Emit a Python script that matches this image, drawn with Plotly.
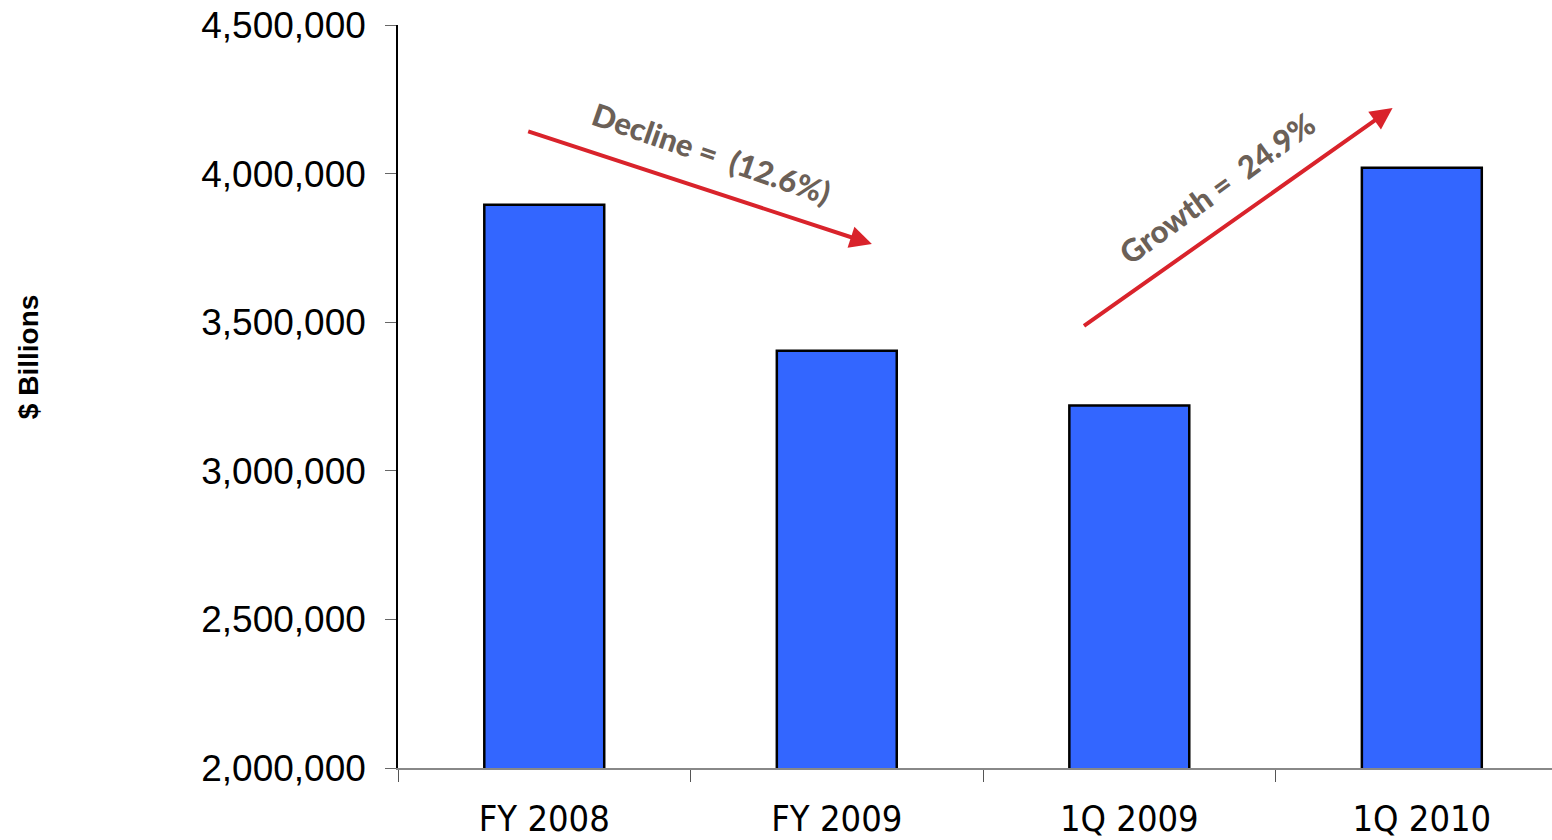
import plotly.graph_objects as go

# Period totals
periods = ["FY 2008", "FY 2009", "1Q 2009", "1Q 2010"]
totals = [3895000, 3404000, 3220000, 4020000]

y_ticks = [2000000, 2500000, 3000000, 3500000, 4000000, 4500000]

# Trend call-outs (axis coordinates: category index, value)
decline_tail = (-0.06, 4144000)
decline_head = (1.12, 3763000)
decline_label_pos = (0.57, 4070000)
growth_tail = (1.84, 3484000)
growth_head = (2.90, 4221000)
growth_label_pos = (2.30, 3950000)

bar_color = "#3366ff"
arrow_color = "#d9232b"
callout_color = "#6b6057"

fig = go.Figure()
fig.add_trace(go.Bar(
    x=periods,
    y=totals,
    width=0.41,
    marker=dict(color=bar_color, line=dict(color="#000000", width=2.5)),
    hoverinfo="x+y",
))

annotations = []
for tail, head in [(decline_tail, decline_head), (growth_tail, growth_head)]:
    annotations.append(dict(
        x=head[0], y=head[1], xref="x", yref="y",
        ax=tail[0], ay=tail[1], axref="x", ayref="y",
        text="", showarrow=True, arrowhead=2, arrowsize=1.1,
        arrowwidth=4, arrowcolor=arrow_color, standoff=0,
    ))

callout_font = dict(family="Lato, 'Open Sans', sans-serif", size=31,
                    color=callout_color, weight=900)
annotations.append(dict(
    x=decline_label_pos[0], y=decline_label_pos[1], xref="x", yref="y",
    text="Decline =\u00a0 (12.6%)", showarrow=False, textangle=19,
    font=callout_font,
))
annotations.append(dict(
    x=growth_label_pos[0], y=growth_label_pos[1], xref="x", yref="y",
    text="Growth =\u00a0 24.9%", showarrow=False, textangle=-36,
    font=callout_font,
))
annotations.append(dict(
    x=-0.3206, y=0.553, xref="paper", yref="paper",
    text="<b>$ Billions</b>", showarrow=False, textangle=-90,
    xanchor="center", yanchor="middle",
    font=dict(family="'Liberation Sans', Arial, sans-serif", size=28, color="#000000"),
))

fig.update_layout(
    width=1552, height=840,
    margin=dict(l=398, r=0, t=25, b=72, autoexpand=False),
    paper_bgcolor="#ffffff", plot_bgcolor="#ffffff",
    showlegend=False,
    annotations=annotations,
    xaxis=dict(
        type="category",
        range=[-0.5, 3.445],
        tickson="boundaries",
        ticks="outside", ticklen=12, tickwidth=1.2, tickcolor="#555555",
        showline=True, linecolor="#888888", linewidth=1.5,
        showgrid=False, zeroline=False,
        tickfont=dict(family="'Liberation Sans Narrow', 'DejaVu Sans Condensed', sans-serif",
                      size=36, color="#000000"),
        ticklabelstandoff=18,
    ),
    yaxis=dict(
        range=[2000000, 4500000],
        tickvals=y_ticks,
        tickformat=",",
        ticks="outside", ticklen=11, tickwidth=1.2, tickcolor="#666666",
        showline=True, linecolor="#000000", linewidth=1.5,
        showgrid=False, zeroline=False,
        tickfont=dict(family="'Liberation Sans', Arial, sans-serif", size=37, color="#000000"),
        ticklabelstandoff=12,
    ),
)

fig.write_html("out.html")
